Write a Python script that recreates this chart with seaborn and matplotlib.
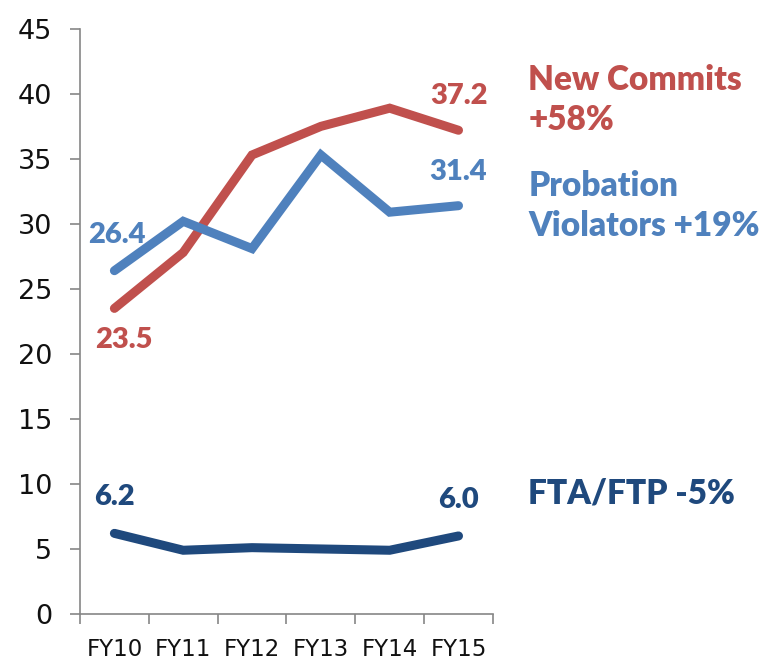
import pandas as pd
import matplotlib.pyplot as plt
import seaborn as sns

years = ['FY10', 'FY11', 'FY12', 'FY13', 'FY14', 'FY15']
new_commits = [23.5, 27.8, 35.3, 37.5, 38.9, 37.2]
probation = [26.4, 30.2, 28.1, 35.3, 30.9, 31.4]
fta_ftp = [6.2, 4.9, 5.1, 5.0, 4.9, 6.0]

red = '#C0504D'
blue = '#4F81BD'
navy = '#1F497D'

df = pd.DataFrame({
    'year': years * 3,
    'value': new_commits + probation + fta_ftp,
    'series': ['New Commits'] * 6 + ['Probation'] * 6 + ['FTA/FTP'] * 6,
})

sns.set_style('ticks')
plt.rcParams['font.family'] = ['DejaVu Sans']

fig = plt.figure(figsize=(7.69, 6.71), dpi=100)
ax = fig.add_axes([0.104, 0.085, 0.537, 0.872])

sns.lineplot(data=df, x='year', y='value', hue='series',
             palette={'New Commits': red, 'Probation': blue, 'FTA/FTP': navy},
             linewidth=6.5, legend=False, ax=ax, sort=False)
for l in ax.lines:
    l.set_solid_capstyle('round')
    l.set_solid_joinstyle('miter')

ax.set_xlim(-0.5, 5.5)
ax.set_ylim(0, 45)
ax.set_yticks(range(0, 46, 5))
ax.set_xticks(range(6))
ax.set_xticklabels(years)
ax.set_xticks([i - 0.5 for i in range(7)], minor=True)
ax.tick_params(axis='x', which='major', length=0, labelsize=16.5, pad=17, colors='#111111')
ax.tick_params(axis='x', which='minor', length=7, width=1.2, color='#868686')
ax.tick_params(axis='y', length=7, width=1.2, color='#868686', labelsize=19.5, pad=13,
               labelcolor='#111111')
ax.set_xlabel('')
ax.set_ylabel('')
sns.despine(ax=ax)
for s in ['left', 'bottom']:
    ax.spines[s].set_color('#868686')
    ax.spines[s].set_linewidth(1.2)

lab = dict(fontsize=21, fontweight='heavy', family=['Lato', 'DejaVu Sans'],
           textcoords='offset points', ha='center', va='center')
ax.annotate(f'{new_commits[-1]:.1f}', (5, new_commits[-1]), xytext=(0, 25), color=red, **lab)
ax.annotate(f'{probation[-1]:.1f}', (5, probation[-1]), xytext=(0, 24), color=blue, **lab)
ax.annotate(f'{probation[0]:.1f}', (0, probation[0]), xytext=(2, 26), color=blue, **lab)
ax.annotate(f'{new_commits[0]:.1f}', (0, new_commits[0]), xytext=(7, -23), color=red, **lab)
ax.annotate(f'{fta_ftp[0]:.1f}', (0, fta_ftp[0]), xytext=(0, 26), color=navy, **lab)
ax.annotate(f'{fta_ftp[-1]:.1f}', (5, fta_ftp[-1]), xytext=(0, 26), color=navy, **lab)

side = dict(fontsize=24, fontweight='heavy', family=['Lato', 'DejaVu Sans'],
            ha='left', va='center', linespacing=1.3)
fig.text(0.687, 0.851, 'New Commits\n+58%', color=red, **side)
fig.text(0.687, 0.693, 'Probation\nViolators +19%', color=blue, **side)
fig.text(0.687, 0.265, 'FTA/FTP -5%', color=navy, **side)

fig.savefig('out.png', dpi=100)
